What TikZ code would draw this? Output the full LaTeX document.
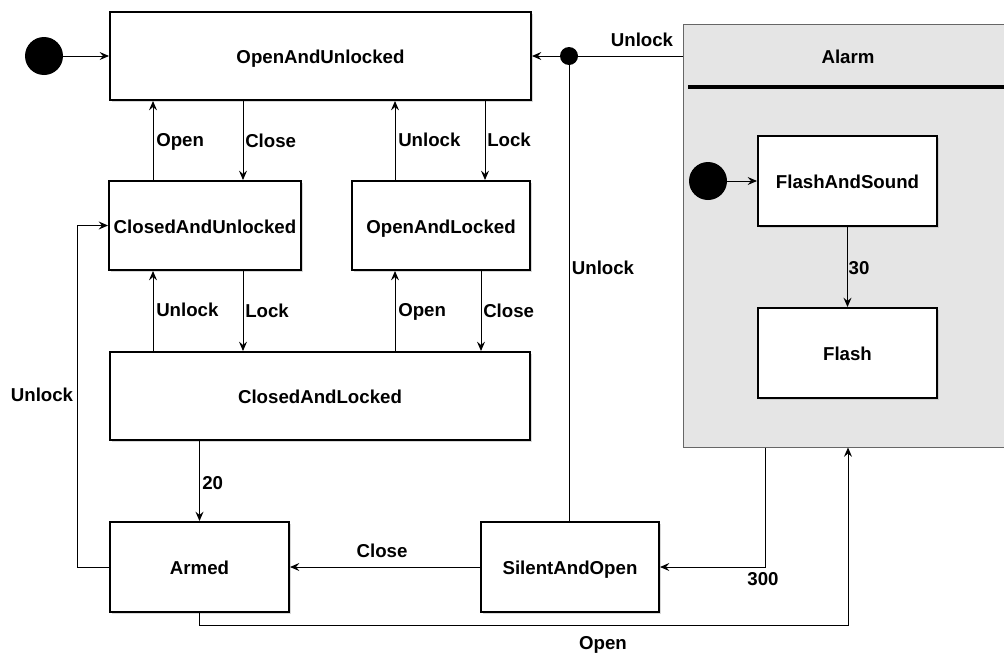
\documentclass[tikz,border=0pt]{standalone}
\usepackage{fontspec}
\setmainfont{Liberation Sans}
\usetikzlibrary{arrows.meta,shadows}
\begin{document}
\begin{tikzpicture}[x=0.75pt,y=-0.75pt,
  every node/.style={font=\bfseries\fontsize{14}{16}\selectfont},
  txt/.style={text height=10.2pt, text depth=2.9pt},
  state/.style={draw, line width=1.5pt, fill=white, inner sep=0pt,
    text height=12.2pt, text depth=0.9pt,
    drop shadow={shadow xshift=1.8pt,shadow yshift=-1.8pt,fill=black!30,opacity=0.5}},
  arr/.style={line width=0.75pt, -{Stealth[length=7pt,width=6pt,inset=2.5pt]}},
  ln/.style={line width=0.75pt},
  lbl/.style={inner sep=0pt, txt},
  initial/.style={circle, fill=black, minimum size=28.5pt, inner sep=0pt},
  junction/.style={circle, fill=black, minimum size=13.5pt, inner sep=0pt}]
\useasboundingbox (0,0) rectangle (1004,657);

% composite state Alarm
\node[draw=black!60, fill=black!10, line width=0.75pt, inner sep=0pt,
      minimum width=242.25pt, minimum height=317.25pt] (Alarm) at (844.5,235.5) {};
\node[lbl] (AlarmT) at (848,59) {Alarm};
\coordinate (H1) at (688,87);
\coordinate (H2) at (1004,87);
\draw[line width=3pt] (H1) -- (H2);

% states
\node[state, minimum width=315.75pt, minimum height=66pt] (OAU) at (320.5,56) {OpenAndUnlocked};
\node[state, minimum width=144pt, minimum height=66.75pt] (CAU) at (205,225.5) {ClosedAndUnlocked};
\node[state, minimum width=133.5pt, minimum height=66.75pt] (OAL) at (441,225.5) {OpenAndLocked};
\node[state, minimum width=315pt, minimum height=66pt] (CAL) at (320,396) {ClosedAndLocked};
\node[state, minimum width=134.25pt, minimum height=67.5pt] (Armed) at (199.5,567) {Armed};
\node[state, minimum width=133.5pt, minimum height=67.5pt] (SAO) at (570,567) {SilentAndOpen};
\node[state, minimum width=134.25pt, minimum height=67.5pt] (FAS) at (847.5,181) {FlashAndSound};
\node[state, minimum width=134.25pt, minimum height=67.5pt] (Flash) at (847.5,353) {Flash};

% pseudo states
\node[initial] (I1) at (44,56) {};
\node[initial] (I2) at (708,181) {};
\node[junction] (J) at (569,56) {};

% x positions
\coordinate (c153) at (153,0);
\coordinate (c243) at (243,0);
\coordinate (c395) at (395,0);
\coordinate (c481) at (481,0);
\coordinate (c485) at (485,0);
\coordinate (c765) at (765,0);
\coordinate (c848) at (848,0);

% transitions
\draw[arr] (I1) -- (OAU.west);
\draw[ln] (Alarm.west |- J) -- (J);
\draw[arr] (J) -- (OAU.east);
\draw[ln] (SAO.north -| J) -- (J);
\draw[arr] (CAU.north -| c153) -- (OAU.south -| c153);
\draw[arr] (OAU.south -| c243) -- (CAU.north -| c243);
\draw[arr] (OAL.north -| c395) -- (OAU.south -| c395);
\draw[arr] (OAU.south -| c485) -- (OAL.north -| c485);
\draw[arr] (CAL.north -| c153) -- (CAU.south -| c153);
\draw[arr] (CAU.south -| c243) -- (CAL.north -| c243);
\draw[arr] (CAL.north -| c395) -- (OAL.south -| c395);
\draw[arr] (OAL.south -| c481) -- (CAL.north -| c481);
\draw[arr] (CAL.south -| Armed.north) -- (Armed.north);
\draw[arr] (Armed.west) -- ++(-32,0) |- (CAU.west);
\draw[arr] (SAO.west) -- (Armed.east);
\draw[arr] (Alarm.south -| c765) |- (SAO.east);
\draw[arr] (Armed.south) -- ++(0,12) -| (Alarm.south -| c848);
\draw[arr] (I2) -- (FAS.west);
\draw[arr] (FAS.south) -- (Flash.north);

% labels
\node[lbl, anchor=west] (l1) at (156,142) {Open};
\node[lbl, anchor=west] (l2) at (245,143) {Close};
\node[lbl, anchor=west] (l3) at (398,142) {Unlock};
\node[lbl, anchor=west] (l4) at (487,142) {Lock};
\node[lbl, anchor=west] (l5) at (156,312) {Unlock};
\node[lbl, anchor=west] (l6) at (245,313) {Lock};
\node[lbl, anchor=west] (l7) at (398,312) {Open};
\node[lbl, anchor=west] (l8) at (483,313) {Close};
\node[lbl, anchor=west] (l9) at (202,485) {20};
\node[lbl] (l10) at (42,397) {Unlock};
\node[lbl] (l11) at (642,42) {Unlock};
\node[lbl] (l12) at (603,270) {Unlock};
\node[lbl] (l13) at (382,553) {Close};
\node[lbl] (l14) at (763,581) {300};
\node[lbl] (l15) at (603,645) {Open};
\node[lbl] (l16) at (859,270) {30};
\end{tikzpicture}
\end{document}
